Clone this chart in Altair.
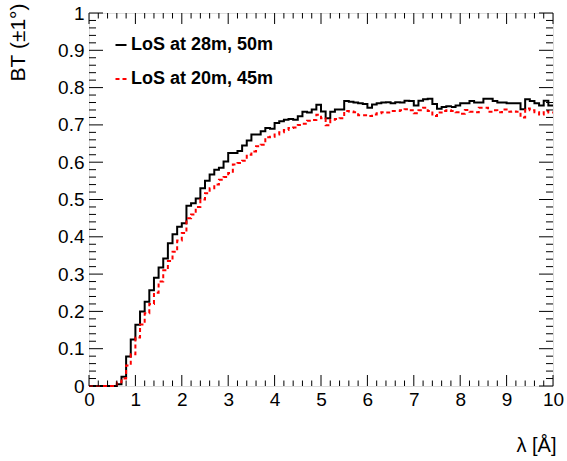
import altair as alt
import pandas as pd

# Bin contents (bins of width 0.1 from 0 to 10)
black_vals = [
    0, 0, 0, 0, 0, 0, 0.005, 0.025, 0.079, 0.125,
    0.164, 0.200, 0.226, 0.257, 0.290, 0.318, 0.342, 0.383, 0.407, 0.427,
    0.436, 0.483, 0.490, 0.503, 0.530, 0.550, 0.567, 0.580, 0.585, 0.602,
    0.625, 0.625, 0.630, 0.645, 0.658, 0.674, 0.674, 0.683, 0.692, 0.690,
    0.705, 0.710, 0.714, 0.716, 0.714, 0.723, 0.735, 0.733, 0.741, 0.754,
    0.736, 0.718, 0.735, 0.741, 0.741, 0.764, 0.762, 0.760, 0.758, 0.756,
    0.746, 0.755, 0.758, 0.760, 0.761, 0.758, 0.761, 0.760, 0.765, 0.764,
    0.752, 0.765, 0.769, 0.770, 0.756, 0.743, 0.748, 0.750, 0.748, 0.752,
    0.758, 0.758, 0.764, 0.760, 0.760, 0.770, 0.770, 0.764, 0.760, 0.760,
    0.758, 0.758, 0.758, 0.742, 0.769, 0.764, 0.758, 0.752, 0.765, 0.752,
]
red_vals = [
    0, 0, 0, 0, 0, 0, 0.010, 0.020, 0.055, 0.085,
    0.130, 0.165, 0.195, 0.220, 0.250, 0.280, 0.310, 0.335, 0.360, 0.390,
    0.410, 0.450, 0.460, 0.480, 0.500, 0.517, 0.530, 0.540, 0.553, 0.560,
    0.571, 0.594, 0.598, 0.604, 0.620, 0.629, 0.643, 0.647, 0.667, 0.668,
    0.674, 0.680, 0.686, 0.692, 0.693, 0.700, 0.703, 0.711, 0.713, 0.727,
    0.718, 0.699, 0.714, 0.716, 0.718, 0.737, 0.736, 0.734, 0.726, 0.726,
    0.724, 0.728, 0.731, 0.734, 0.733, 0.737, 0.737, 0.739, 0.742, 0.739,
    0.731, 0.739, 0.746, 0.737, 0.724, 0.733, 0.737, 0.739, 0.737, 0.734,
    0.730, 0.740, 0.735, 0.734, 0.746, 0.746, 0.735, 0.739, 0.734, 0.741,
    0.735, 0.736, 0.735, 0.720, 0.744, 0.739, 0.734, 0.728, 0.737, 0.733,
]
lam_edges = [round(0.1 * i, 1) for i in range(101)]

series_black = "LoS at 28m, 50m"
series_red = "LoS at 20m, 45m"

x_major = list(range(11))
x_minor = [round(0.2 * i, 1) for i in range(51) if i % 5 != 0]
y_major = [round(0.1 * i, 1) for i in range(11)]
y_minor = [round(0.02 * i, 2) for i in range(51) if i % 5 != 0]

rows = []
for name, vals in [(series_black, black_vals), (series_red, red_vals)]:
    ext = vals + [vals[-1]]
    for x, y in zip(lam_edges, ext):
        rows.append({"lam": x, "bt": y, "series": name})
df = pd.DataFrame(rows)

W, H = 464, 373
FONT = "Liberation Sans"
xscale = alt.Scale(domain=[0, 10], nice=False, zero=False)
yscale = alt.Scale(domain=[0, 1], nice=False, zero=False)

legend_cfg = dict(
    title=None, orient="none", legendX=23, legendY=23,
    symbolType="stroke", symbolSize=121, symbolStrokeWidth=2,
    labelFontSize=18, labelFontWeight="bold", labelFont=FONT,
    labelColor="black", labelOffset=1, rowPadding=16, padding=0,
)
color_enc = alt.Color(
    "series:N",
    scale=alt.Scale(domain=[series_black, series_red], range=["black", "red"]),
    legend=alt.Legend(**legend_cfg),
)
dash_enc = alt.StrokeDash(
    "series:N",
    scale=alt.Scale(domain=[series_black, series_red], range=[[1, 0], [4, 3]]),
    legend=alt.Legend(**legend_cfg),
)

x_axis = alt.Axis(
    title="λ [Å]", values=x_major, format="~r", ticks=False, domain=False,
    grid=False, labelFontSize=19, labelFont=FONT, labelColor="black",
    labelPadding=4, labelFlush=False, titleFontSize=20, titleFont=FONT,
    titleFontWeight="normal", titleColor="black", titleX=467, titleY=65,
    titleAlign="right", titleBaseline="alphabetic",
)
y_axis = alt.Axis(
    title="BT (±1°)", values=y_major, format="~r", ticks=False, domain=False,
    grid=False, labelFontSize=19, labelFont=FONT, labelColor="black",
    labelPadding=5, labelFlush=False, titleFontSize=21, titleFont=FONT,
    titleFontWeight="normal", titleColor="black", titleX=-71, titleY=-10,
    titleAngle=270, titleAlign="right", titleBaseline="middle",
)


def line_layer(name, axes):
    return alt.Chart(df).transform_filter(
        alt.datum.series == name
    ).mark_line(interpolate="step-after", strokeWidth=2).encode(
        x=alt.X("lam:Q", scale=xscale, axis=x_axis if axes else None),
        y=alt.Y("bt:Q", scale=yscale, axis=y_axis if axes else None),
        color=color_enc,
        strokeDash=dash_enc,
    )


def xticks(vals, length):
    d = pd.DataFrame({"v": vals})
    base = alt.Chart(d).mark_rule(color="black", strokeWidth=1)
    bottom = base.encode(x=alt.X("v:Q", scale=xscale, axis=None),
                         y=alt.value(H), y2=alt.value(H - length))
    top = base.encode(x=alt.X("v:Q", scale=xscale, axis=None),
                      y=alt.value(0), y2=alt.value(length))
    return [bottom, top]


def yticks(vals, length):
    d = pd.DataFrame({"v": vals})
    base = alt.Chart(d).mark_rule(color="black", strokeWidth=1)
    left = base.encode(y=alt.Y("v:Q", scale=yscale, axis=None),
                       x=alt.value(0), x2=alt.value(length))
    right = base.encode(y=alt.Y("v:Q", scale=yscale, axis=None),
                        x=alt.value(W), x2=alt.value(W - length))
    return [left, right]


layers = ([line_layer(series_black, True), line_layer(series_red, False)]
          + xticks(x_major, 11) + xticks(x_minor, 5.5)
          + yticks(y_major, 14) + yticks(y_minor, 7))

chart = alt.layer(*layers).resolve_axis(
    x="independent", y="independent"
).properties(
    width=W, height=H,
    autosize=alt.AutoSizeParams(type="none"),
    padding={"left": 89, "top": 13, "right": 14, "bottom": 75},
).configure_view(stroke="black", strokeWidth=1.2).configure(background="white")

chart.save("out.html", embed_options={"renderer": "svg", "actions": False})
